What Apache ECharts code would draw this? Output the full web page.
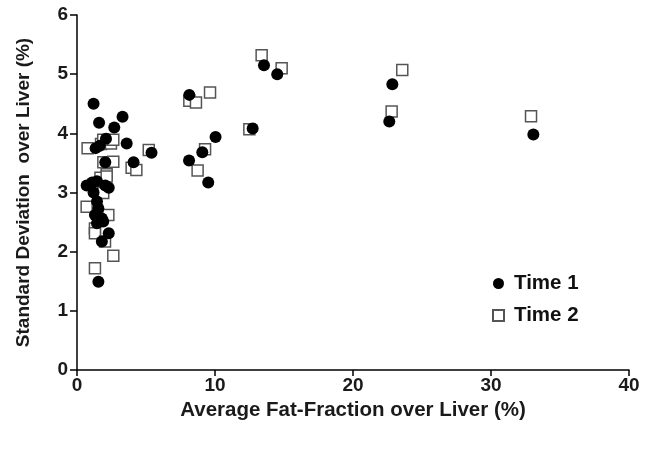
<!DOCTYPE html>
<html>
<head>
<meta charset="utf-8">
<script src="https://cdn.jsdelivr.net/npm/echarts@6/dist/echarts.min.js"></script>
<style>html,body{margin:0;padding:0;background:#fff}#c{width:653px;height:450px}</style>
</head>
<body>
<div id="c"></div>
<script>
var xTicks = [0, 10, 20, 30, 40];
var yTicks = [0, 1, 2, 3, 4, 5, 6];
var time1X = [1.2, 1.6, 3.3, 2.7, 2.1, 1.65, 1.35, 3.6, 5.4, 2.05, 4.1, 0.7, 1.1, 1.45, 2.05, 2.3, 1.2, 1.45, 1.55, 1.3, 1.8, 1.45, 1.9, 2.3, 1.8, 1.55,
              8.14, 12.73, 10.04, 9.08, 8.12, 9.51, 13.55, 14.51, 22.85, 22.63, 33.07];
var time1Y = [4.5, 4.18, 4.28, 4.1, 3.91, 3.79, 3.75, 3.83, 3.67, 3.51, 3.51, 3.12, 3.17, 3.19, 3.12, 3.08, 3.0, 2.85, 2.73, 2.62, 2.56, 2.48, 2.51, 2.31, 2.17, 1.49,
              4.65, 4.08, 3.94, 3.68, 3.54, 3.17, 5.15, 5.0, 4.83, 4.2, 3.98];
var time2X = [0.77, 1.74, 2.46, 1.9, 2.63, 5.2, 1.91, 2.63, 3.96, 4.3, 2.15, 1.7, 2.15, 1.9, 0.7, 2.27, 1.3, 1.3, 2.03, 2.63, 1.3,
              8.14, 8.62, 9.64, 12.49, 9.28, 8.74, 13.38, 14.83, 23.57, 22.8, 32.9];
var time2Y = [3.75, 3.82, 3.83, 3.89, 3.89, 3.72, 3.51, 3.52, 3.42, 3.38, 3.31, 3.25, 3.27, 2.99, 2.76, 2.62, 2.39, 2.31, 2.17, 1.93, 1.72,
              4.55, 4.52, 4.69, 4.07, 3.73, 3.37, 5.32, 5.10, 5.07, 4.37, 4.29];
var seriesNames = ['Time 1', 'Time 2'];
var xTitle = 'Average Fat-Fraction over Liver (%)';
var yTitle = 'Standard Deviation  over Liver (%)';

function pairs(xs, ys) { return xs.map(function (x, i) { return [x, ys[i]]; }); }

var font = 'Liberation Sans, Arial, sans-serif';
var txt = '#1a1a1a';
var chart = echarts.init(document.getElementById('c'), null, { renderer: 'canvas' });
chart.setOption({
  animation: false,
  backgroundColor: '#fff',
  grid: { left: 77, right: 24, top: 15, bottom: 80 },
  legend: {
    orient: 'vertical',
    left: 487,
    top: 268,
    itemGap: 11,
    itemWidth: 11,
    itemHeight: 11,
    data: [
      { name: seriesNames[0], icon: 'circle' },
      { name: seriesNames[1], icon: 'rect' }
    ],
    textStyle: { fontFamily: font, fontWeight: 'bold', fontSize: 20.5, color: '#111', padding: [0, 0, 0, 5] }
  },
  xAxis: {
    type: 'value', min: xTicks[0], max: xTicks[xTicks.length - 1], interval: 10,
    name: xTitle, nameLocation: 'middle', nameGap: 28,
    nameTextStyle: { fontFamily: font, fontWeight: 'bold', fontSize: 20.5, color: txt },
    axisLine: { lineStyle: { color: '#000', width: 1.5 } },
    axisTick: { show: true, inside: false, length: 6, lineStyle: { color: '#000', width: 1.5 } },
    axisLabel: { fontFamily: font, fontWeight: 'bold', fontSize: 19, color: txt, margin: 6 },
    splitLine: { show: false }
  },
  yAxis: {
    type: 'value', min: yTicks[0], max: yTicks[yTicks.length - 1], interval: 1,
    name: yTitle, nameLocation: 'middle', nameGap: 44, nameRotate: 90,
    nameTextStyle: { fontFamily: font, fontWeight: 'bold', fontSize: 19, color: txt },
    axisLine: { show: true, lineStyle: { color: '#000', width: 1.5 } },
    axisTick: { show: true, inside: false, length: 7, lineStyle: { color: '#000', width: 1.5 } },
    axisLabel: { fontFamily: font, fontWeight: 'bold', fontSize: 19, color: txt, margin: 9 },
    splitLine: { show: false }
  },
  series: [
    {
      name: seriesNames[1], type: 'scatter', z: 2,
      symbol: 'rect', symbolSize: 11,
      itemStyle: { color: '#fff', borderColor: '#555', borderWidth: 1.5, opacity: 1 },
      data: pairs(time2X, time2Y)
    },
    {
      name: seriesNames[0], type: 'scatter', z: 3,
      symbol: 'circle', symbolSize: 12,
      itemStyle: { color: '#000', opacity: 1 },
      data: pairs(time1X, time1Y)
    }
  ]
});
</script>
</body>
</html>
